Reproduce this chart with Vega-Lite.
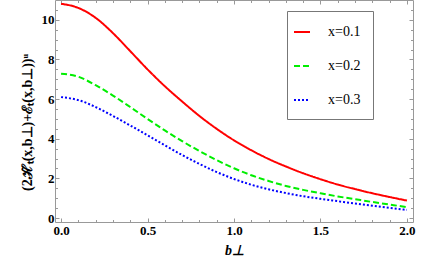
{
  "$schema": "https://vega.github.io/schema/vega-lite/v6.json",
  "width": 358,
  "height": 222,
  "autosize": {"type": "none"},
  "padding": {"left": 55, "top": 0, "right": 23, "bottom": 50},
  "data": {"values": [
    {"b":0.0,"v":10.81,"s":"x=0.1"},{"b":0.1,"v":10.6,"s":"x=0.1"},{"b":0.2,"v":10.1,"s":"x=0.1"},{"b":0.3,"v":9.33,"s":"x=0.1"},{"b":0.4,"v":8.42,"s":"x=0.1"},{"b":0.5,"v":7.5,"s":"x=0.1"},{"b":0.6,"v":6.65,"s":"x=0.1"},{"b":0.7,"v":5.88,"s":"x=0.1"},{"b":0.8,"v":5.15,"s":"x=0.1"},{"b":0.9,"v":4.5,"s":"x=0.1"},{"b":1.0,"v":3.92,"s":"x=0.1"},{"b":1.1,"v":3.42,"s":"x=0.1"},{"b":1.2,"v":2.98,"s":"x=0.1"},{"b":1.3,"v":2.6,"s":"x=0.1"},{"b":1.4,"v":2.26,"s":"x=0.1"},{"b":1.5,"v":1.96,"s":"x=0.1"},{"b":1.6,"v":1.69,"s":"x=0.1"},{"b":1.7,"v":1.46,"s":"x=0.1"},{"b":1.8,"v":1.25,"s":"x=0.1"},{"b":1.9,"v":1.06,"s":"x=0.1"},{"b":2.0,"v":0.88,"s":"x=0.1"},
    {"b":0.0,"v":7.28,"s":"x=0.2"},{"b":0.1,"v":7.13,"s":"x=0.2"},{"b":0.2,"v":6.7,"s":"x=0.2"},{"b":0.3,"v":6.18,"s":"x=0.2"},{"b":0.4,"v":5.6,"s":"x=0.2"},{"b":0.5,"v":5.0,"s":"x=0.2"},{"b":0.6,"v":4.42,"s":"x=0.2"},{"b":0.7,"v":3.88,"s":"x=0.2"},{"b":0.8,"v":3.38,"s":"x=0.2"},{"b":0.9,"v":2.92,"s":"x=0.2"},{"b":1.0,"v":2.51,"s":"x=0.2"},{"b":1.1,"v":2.16,"s":"x=0.2"},{"b":1.2,"v":1.87,"s":"x=0.2"},{"b":1.3,"v":1.62,"s":"x=0.2"},{"b":1.4,"v":1.42,"s":"x=0.2"},{"b":1.5,"v":1.25,"s":"x=0.2"},{"b":1.6,"v":1.09,"s":"x=0.2"},{"b":1.7,"v":0.95,"s":"x=0.2"},{"b":1.8,"v":0.81,"s":"x=0.2"},{"b":1.9,"v":0.68,"s":"x=0.2"},{"b":2.0,"v":0.55,"s":"x=0.2"},
    {"b":0.0,"v":6.1,"s":"x=0.3"},{"b":0.1,"v":5.95,"s":"x=0.3"},{"b":0.2,"v":5.6,"s":"x=0.3"},{"b":0.3,"v":5.15,"s":"x=0.3"},{"b":0.4,"v":4.67,"s":"x=0.3"},{"b":0.5,"v":4.17,"s":"x=0.3"},{"b":0.6,"v":3.67,"s":"x=0.3"},{"b":0.7,"v":3.18,"s":"x=0.3"},{"b":0.8,"v":2.73,"s":"x=0.3"},{"b":0.9,"v":2.32,"s":"x=0.3"},{"b":1.0,"v":1.97,"s":"x=0.3"},{"b":1.1,"v":1.68,"s":"x=0.3"},{"b":1.2,"v":1.45,"s":"x=0.3"},{"b":1.3,"v":1.26,"s":"x=0.3"},{"b":1.4,"v":1.1,"s":"x=0.3"},{"b":1.5,"v":0.97,"s":"x=0.3"},{"b":1.6,"v":0.85,"s":"x=0.3"},{"b":1.7,"v":0.73,"s":"x=0.3"},{"b":1.8,"v":0.62,"s":"x=0.3"},{"b":1.9,"v":0.51,"s":"x=0.3"},{"b":2.0,"v":0.41,"s":"x=0.3"}
  ]},
  "layer": [
    {
      "mark": {"type": "line", "strokeWidth": 2, "interpolate": "monotone"},
      "encoding": {
        "x": {"field": "b", "type": "quantitative", "scale": {"domain": [-0.035, 2.035], "nice": false, "zero": false},
              "axis": {"orient": "bottom", "values": [0, 0.5, 1, 1.5, 2], "format": ".1f", "tickSize": -4, "labelPadding": 6, "title": "b⊥", "titleFontStyle": "italic", "titleFontSize": 14, "titlePadding": 6}},
        "y": {"field": "v", "type": "quantitative", "scale": {"domain": [-0.2, 11], "nice": false, "zero": false},
              "axis": {"orient": "left", "values": [0, 2, 4, 6, 8, 10], "tickSize": -4, "labelPadding": 5, "title": "(2ℋ̃ₜ(x,b⊥)+ℰₜ(x,b⊥))ᵘ", "titleFontSize": 14, "titlePadding": 7, "titleY": 122}},
        "color": {"field": "s", "type": "nominal", "title": null, "scale": {"domain": ["x=0.1", "x=0.2", "x=0.3"], "range": ["#ff0000", "#00ee00", "#0000ff"]}},
        "strokeDash": {"field": "s", "type": "nominal", "title": null, "scale": {"domain": ["x=0.1", "x=0.2", "x=0.3"], "range": [[1, 0], [6, 3], [2, 2]]}}
      }
    },
    {
      "mark": {"type": "point", "opacity": 0},
      "encoding": {
        "x": {"field": "b", "type": "quantitative", "scale": {"domain": [-0.035, 2.035], "nice": false, "zero": false},
              "axis": {"orient": "bottom", "values": [0.1,0.2,0.3,0.4,0.6,0.7,0.8,0.9,1.1,1.2,1.3,1.4,1.6,1.7,1.8,1.9], "labels": false, "tickSize": -2.5, "title": null}},
        "y": {"field": "v", "type": "quantitative", "axis": null}
      }
    },
    {
      "mark": {"type": "point", "opacity": 0},
      "encoding": {
        "x": {"field": "b", "type": "quantitative", "scale": {"domain": [-0.035, 2.035], "nice": false, "zero": false},
              "axis": {"orient": "top", "values": [0, 0.5, 1, 1.5, 2], "labels": false, "tickSize": -4, "title": null}},
        "y": {"field": "v", "type": "quantitative", "axis": null}
      }
    },
    {
      "mark": {"type": "point", "opacity": 0},
      "encoding": {
        "x": {"field": "b", "type": "quantitative", "scale": {"domain": [-0.035, 2.035], "nice": false, "zero": false},
              "axis": {"orient": "top", "values": [0.1,0.2,0.3,0.4,0.6,0.7,0.8,0.9,1.1,1.2,1.3,1.4,1.6,1.7,1.8,1.9], "labels": false, "tickSize": -2.5, "title": null}},
        "y": {"field": "v", "type": "quantitative", "axis": null}
      }
    },
    {
      "mark": {"type": "point", "opacity": 0},
      "encoding": {
        "x": {"field": "b", "type": "quantitative", "axis": null},
        "y": {"field": "v", "type": "quantitative", "scale": {"domain": [-0.2, 11], "nice": false, "zero": false},
              "axis": {"orient": "left", "values": [0.5,1,1.5,2.5,3,3.5,4.5,5,5.5,6.5,7,7.5,8.5,9,9.5,10.5], "labels": false, "tickSize": -2.5, "title": null}}
      }
    },
    {
      "mark": {"type": "point", "opacity": 0},
      "encoding": {
        "x": {"field": "b", "type": "quantitative", "axis": null},
        "y": {"field": "v", "type": "quantitative", "scale": {"domain": [-0.2, 11], "nice": false, "zero": false},
              "axis": {"orient": "right", "values": [0, 2, 4, 6, 8, 10], "labels": false, "tickSize": -4, "title": null}}
      }
    },
    {
      "mark": {"type": "point", "opacity": 0},
      "encoding": {
        "x": {"field": "b", "type": "quantitative", "axis": null},
        "y": {"field": "v", "type": "quantitative", "scale": {"domain": [-0.2, 11], "nice": false, "zero": false},
              "axis": {"orient": "right", "values": [0.5,1,1.5,2.5,3,3.5,4.5,5,5.5,6.5,7,7.5,8.5,9,9.5,10.5], "labels": false, "tickSize": -2.5, "title": null}}
      }
    }
  ],
  "resolve": {"axis": {"x": "independent", "y": "independent"}},
  "config": {
    "view": {"stroke": "#999999", "strokeWidth": 1},
    "axis": {
      "domain": false,
      "grid": false,
      "tickColor": "#999999",
      "tickWidth": 1,
      "labelFont": "Liberation Serif",
      "labelFontWeight": "bold",
      "labelFontSize": 13,
      "labelColor": "#000000",
      "titleFont": "Liberation Serif",
      "titleFontWeight": "bold",
      "titleColor": "#000000"
    },
    "legend": {
      "orient": "none",
      "legendX": 232,
      "legendY": 11,
      "padding": 12,
      "strokeColor": "#777777",
      "fillColor": "#ffffff",
      "symbolType": "stroke",
      "symbolSize": 256,
      "symbolStrokeWidth": 2,
      "symbolOffset": -6,
      "labelOffset": 17,
      "rowPadding": 18,
      "labelFont": "Liberation Serif",
      "labelFontSize": 14,
      "labelColor": "#000000",
      "labelExpr": "datum.label + '\u00a0\u00a0\u00a0'"
    }
  }
}
